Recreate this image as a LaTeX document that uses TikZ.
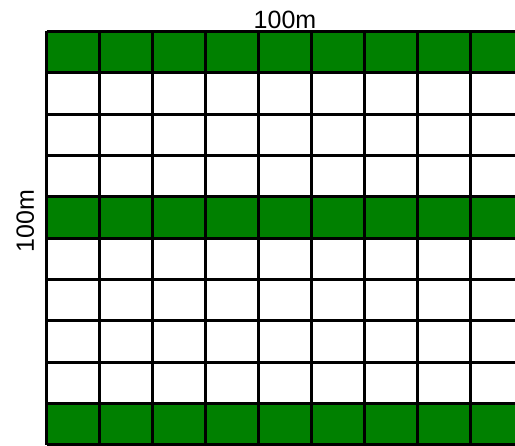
\documentclass[tikz,border=0pt]{standalone}
\usepackage{fontspec}
\setmainfont{Liberation Sans}
\usetikzlibrary{positioning}
\definecolor{field}{HTML}{008000}

\begin{document}
\begin{tikzpicture}[x=1pt,y=-1pt,
    gridline/.style={black,line width=3pt},
    strip/.style={fill=field},
    dimlabel/.style={anchor=base,inner sep=0pt,font=\fontsize{25}{30}\selectfont}]
  \fill[white] (0,0) rectangle (515,446);
  \useasboundingbox (0,0) rectangle (515,446);
  \clip (0,0) rectangle (515,446);
  % green strips
  \foreach \r in {0,4,9}{
    \fill[strip] (46.5,31.5+41.35*\r) rectangle (576.5,31.5+41.35*\r+41.35);
  }
  % grid lines
  \foreach \c in {0,...,10}{
    \draw[gridline] (46.5+53*\c,31.5) -- (46.5+53*\c,445);
  }
  \foreach \r in {0,...,10}{
    \draw[gridline] (46.5,31.5+41.35*\r) -- (576.5,31.5+41.35*\r);
  }
  % labels
  \node[dimlabel] (widthlabel) at (285,29) {100m};
  \node[dimlabel,rotate=90] (heightlabel) at (34,221) {100m};
\end{tikzpicture}
\end{document}
